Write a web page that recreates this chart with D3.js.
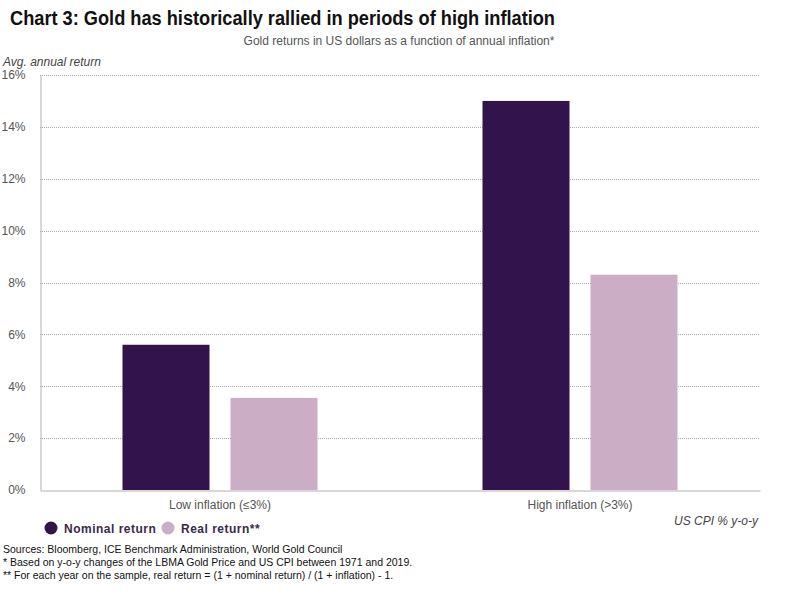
<!DOCTYPE html>
<html><head><meta charset="utf-8">
<script src="https://cdn.jsdelivr.net/npm/d3@7"></script>
<style>
body{margin:0;background:#fff;}
text{font-family:"Liberation Sans",Arial,sans-serif;}
</style></head>
<body><svg id="chart" width="800" height="600"></svg>
<script>
const categories = ["Low inflation (≤3%)", "High inflation (>3%)"];
const seriesNames = ["Nominal return", "Real return**"];
const nominalReturn = [5.6, 15.0];
const realReturn = [3.55, 8.3];
const yTicks = [0, 2, 4, 6, 8, 10, 12, 14, 16];
const colors = ["#33134b", "#cbadc5"];

(function(){
const svg = d3.select("#chart");
const mLeft = 40, mRight = 760, mTop = 75, mBottom = 490;

const x = d3.scaleBand().domain(categories).range([mLeft, mRight]).paddingInner(0).paddingOuter(0);
const xs = d3.scaleBand().domain(seriesNames).range([0, 195]).paddingInner(21/108).paddingOuter(0);
const y = d3.scaleLinear().domain([0, 16]).range([mBottom, mTop]);

// gridlines
svg.append("g").selectAll("line").data(yTicks.filter(d => d > 0)).join("line")
  .attr("x1", mLeft).attr("x2", mRight)
  .attr("y1", d => Math.round(y(d)) + 0.5).attr("y2", d => Math.round(y(d)) + 0.5)
  .attr("stroke", "#aaaaaa").attr("stroke-width", 1).attr("stroke-dasharray", "1,1");

// bars
const data = categories.map((c, i) => [
  {cat: c, s: seriesNames[0], v: nominalReturn[i]},
  {cat: c, s: seriesNames[1], v: realReturn[i]}
]).flat();
svg.append("g").selectAll("rect").data(data).join("rect")
  .attr("x", d => x(d.cat) + (x.bandwidth() - 195) / 2 + xs(d.s))
  .attr("width", xs.bandwidth())
  .attr("y", d => y(d.v))
  .attr("height", d => y(0) - y(d.v))
  .attr("fill", d => colors[seriesNames.indexOf(d.s)]);

// axes
const yAxis = d3.axisLeft(y).tickValues(yTicks).tickFormat(d => d + "%").tickSize(0).tickPadding(15);
const gy = svg.append("g").attr("transform", `translate(${mLeft + 0.5},0)`).call(yAxis);
gy.select(".domain").attr("stroke", "#b0b0b0");
gy.selectAll("text").attr("font-size", 12).attr("fill", "#555").attr("font-family", "Liberation Sans, Arial, sans-serif");

const xAxis = d3.axisBottom(x).tickSize(0).tickPadding(10);
const gx = svg.append("g").attr("transform", `translate(0,${mBottom + 0.5})`).call(xAxis);
gx.select(".domain").attr("stroke", "#b0b0b0");
gx.selectAll("text").attr("font-size", 12).attr("fill", "#555").attr("font-family", "Liberation Sans, Arial, sans-serif");

// titles
svg.append("text").attr("x", 10).attr("y", 25).text("Chart 3: Gold has historically rallied in periods of high inflation")
  .attr("font-size", 20).attr("font-weight", "bold").attr("fill", "#111")
  .attr("textLength", 545).attr("lengthAdjust", "spacingAndGlyphs");
svg.append("text").attr("x", 399).attr("y", 45).attr("text-anchor", "middle")
  .text("Gold returns in US dollars as a function of annual inflation*")
  .attr("font-size", 12).attr("fill", "#555");
svg.append("text").attr("x", 3).attr("y", 66).text("Avg. annual return")
  .attr("font-size", 12).attr("font-style", "italic").attr("fill", "#444");
svg.append("text").attr("x", 758).attr("y", 525).attr("text-anchor", "end").text("US CPI % y-o-y")
  .attr("font-size", 12).attr("font-style", "italic").attr("fill", "#444");

// legend
const legX = [51, 168];
const lg = svg.append("g").selectAll("g").data(seriesNames).join("g")
  .attr("transform", (d, i) => `translate(${legX[i]},528)`);
lg.append("circle").attr("r", 6.5).attr("fill", (d, i) => colors[i]);
lg.append("text").attr("x", 13).attr("y", 5).text(d => d)
  .attr("font-size", 12).attr("font-weight", "bold").attr("fill", "#3a2a4a").attr("letter-spacing", "0.5px");

// footnotes
const notes = [
  "Sources: Bloomberg, ICE Benchmark Administration, World Gold Council",
  "* Based on y-o-y changes of the LBMA Gold Price and US CPI between 1971 and 2019.",
  "** For each year on the sample, real return = (1 + nominal return) / (1 + inflation) - 1."
];
svg.append("g").selectAll("text").data(notes).join("text")
  .attr("x", 3).attr("y", (d, i) => 553 + i * 13).text(d => d)
  .attr("font-size", 10.5).attr("fill", "#111");
})();
</script></body></html>
